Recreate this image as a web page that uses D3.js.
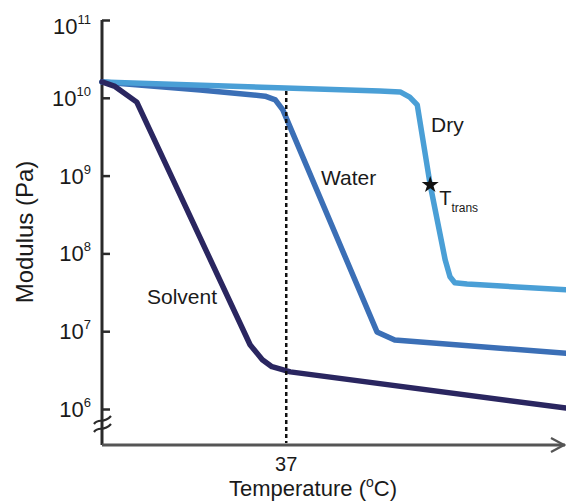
<!DOCTYPE html>
<html>
<head>
<meta charset="utf-8">
<script src="https://cdn.jsdelivr.net/npm/d3@7"></script>
<style>
  html, body { margin: 0; padding: 0; background: #fff; }
  svg { display: block; font-family: "Liberation Sans", Arial, sans-serif; }
</style>
</head>
<body>
<svg id="chart" width="566" height="503"></svg>
<script>
// Storage modulus vs. temperature for three conditions
const dryT      = [10, 50.7, 53.7, 55.1, 56.2, 58.1, 60.3, 61.0, 61.7, 63.5, 78];
const dryE      = [1.6e10, 1.22e10, 1.19e10, 1.02e10, 8.1e9, 7.6e8, 8.2e7, 5.0e7, 4.2e7, 4.05e7, 3.4e7];
const waterT    = [10, 24.4, 33.9, 35.4, 36.5, 50.3, 52.9, 78];
const waterE    = [1.6e10, 1.26e10, 1.05e10, 9.4e9, 7.0e9, 9.8e6, 7.7e6, 5.2e6];
const solventT  = [10, 11.9, 15.1, 31.7, 33.5, 34.9, 37.6, 78];
const solventE  = [1.6e10, 1.4e10, 8.8e9, 6.7e6, 4.3e6, 3.5e6, 3.0e6, 1.03e6];

const yTickValues = [1e6, 1e7, 1e8, 1e9, 1e10, 1e11];
const yTickExponents = ["6", "7", "8", "9", "10", "11"];
const xMarkT = 37;
const transIndex = 5;            // point on the dry curve where the transition is marked

const seriesNames = ["Water", "Dry", "Solvent"];
const colors = { Dry: "#4a9fd6", Water: "#3b6fb6", Solvent: "#2a2660" };

const svg = d3.select("#chart");

const x = d3.scaleLinear().domain([10, 78]).range([102, 566]);
const y = d3.scaleLog().domain([1e6, 1e11]).range([409, 20]);

const axisColor = "#2a2a2a";
const textColor = "#1a1a1a";
const baseY = 445;

// y axis line
svg.append("line")
  .attr("x1", x(10)).attr("x2", x(10))
  .attr("y1", y(1e11)).attr("y2", baseY)
  .attr("stroke", axisColor).attr("stroke-width", 3);

// y ticks
const yAxis = d3.axisRight(y).tickValues(yTickValues).tickSize(8).tickFormat("");
const yg = svg.append("g").attr("transform", `translate(${x(10)},0)`).call(yAxis);
yg.select(".domain").remove();
yg.selectAll(".tick line").attr("stroke", axisColor).attr("stroke-width", 2.5);

// y tick labels with exponents
yTickValues.forEach((v, i) => {
  const yy = y(v) + (v === 1e11 ? 6 : 0);
  const t = svg.append("text")
    .attr("x", 91).attr("y", yy + 8)
    .attr("text-anchor", "end")
    .attr("font-size", 22)
    .attr("fill", textColor);
  t.append("tspan").text("10");
  t.append("tspan").attr("font-size", 13).attr("dy", -10).text(yTickExponents[i]);
});

// axis break marks
[0, 8].forEach(off => {
  svg.append("path")
    .attr("d", `M94,${424 + off} C99,${417 + off} 103,${425 + off} 111,${416 + off}`)
    .attr("fill", "none").attr("stroke", axisColor).attr("stroke-width", 2.2);
});

// x axis with arrow
svg.append("line")
  .attr("x1", x(10)).attr("x2", 565)
  .attr("y1", baseY).attr("y2", baseY)
  .attr("stroke", "#555").attr("stroke-width", 3);
svg.append("path")
  .attr("d", `M551,438 L564,445 L551,452`)
  .attr("fill", "none").attr("stroke", "#555").attr("stroke-width", 2.2);

// x label at 37
svg.append("text")
  .attr("x", x(xMarkT)).attr("y", 471)
  .attr("text-anchor", "middle").attr("font-size", 20).attr("fill", textColor)
  .text("37");

// axis titles
const xt = svg.append("text")
  .attr("x", 313).attr("y", 496)
  .attr("text-anchor", "middle").attr("font-size", 22).attr("fill", textColor);
xt.append("tspan").text("Temperature (");
xt.append("tspan").attr("font-size", 14).attr("dy", -9).text("o");
xt.append("tspan").attr("dy", 9).text("C)");

svg.append("text")
  .attr("transform", "translate(33,232) rotate(-90)")
  .attr("text-anchor", "middle").attr("font-size", 24).attr("fill", textColor)
  .text("Modulus (Pa)");

// curves
const line = d3.line().x(d => x(d[0])).y(d => y(d[1]));
const data = {
  Dry: dryT.map((t, i) => [t, dryE[i]]),
  Water: waterT.map((t, i) => [t, waterE[i]]),
  Solvent: solventT.map((t, i) => [t, solventE[i]])
};
seriesNames.forEach(name => {
  svg.append("path")
    .datum(data[name])
    .attr("d", line)
    .attr("fill", "none")
    .attr("stroke", colors[name])
    .attr("stroke-width", 5.5)
    .attr("stroke-linejoin", "round")
    .attr("stroke-linecap", "round");
});

// body temperature marker
svg.append("line")
  .attr("x1", x(xMarkT)).attr("x2", x(xMarkT))
  .attr("y1", 91).attr("y2", baseY - 2)
  .attr("stroke", "#111").attr("stroke-width", 2.5)
  .attr("stroke-dasharray", "4,3");

// series labels
const labelStyle = sel => sel.attr("font-size", 21).attr("fill", textColor);
svg.append("text").attr("x", 431).attr("y", 132).text("Dry").call(labelStyle);
svg.append("text").attr("x", 321).attr("y", 185).text("Water").call(labelStyle);
svg.append("text").attr("x", 147).attr("y", 304).text("Solvent").call(labelStyle);

// transition point
const tp = data.Dry[transIndex];
svg.append("path")
  .attr("d", d3.symbol().type(d3.symbolStar).size(90)())
  .attr("transform", `translate(${x(tp[0])},${y(tp[1])})`)
  .attr("fill", "#111");
const tt = svg.append("text")
  .attr("x", x(tp[0]) + 9).attr("y", y(tp[1]) + 20)
  .attr("font-size", 20).attr("fill", textColor);
tt.append("tspan").text("T");
tt.append("tspan").attr("font-size", 12).attr("dy", 7).text("trans");
</script>
</body>
</html>
